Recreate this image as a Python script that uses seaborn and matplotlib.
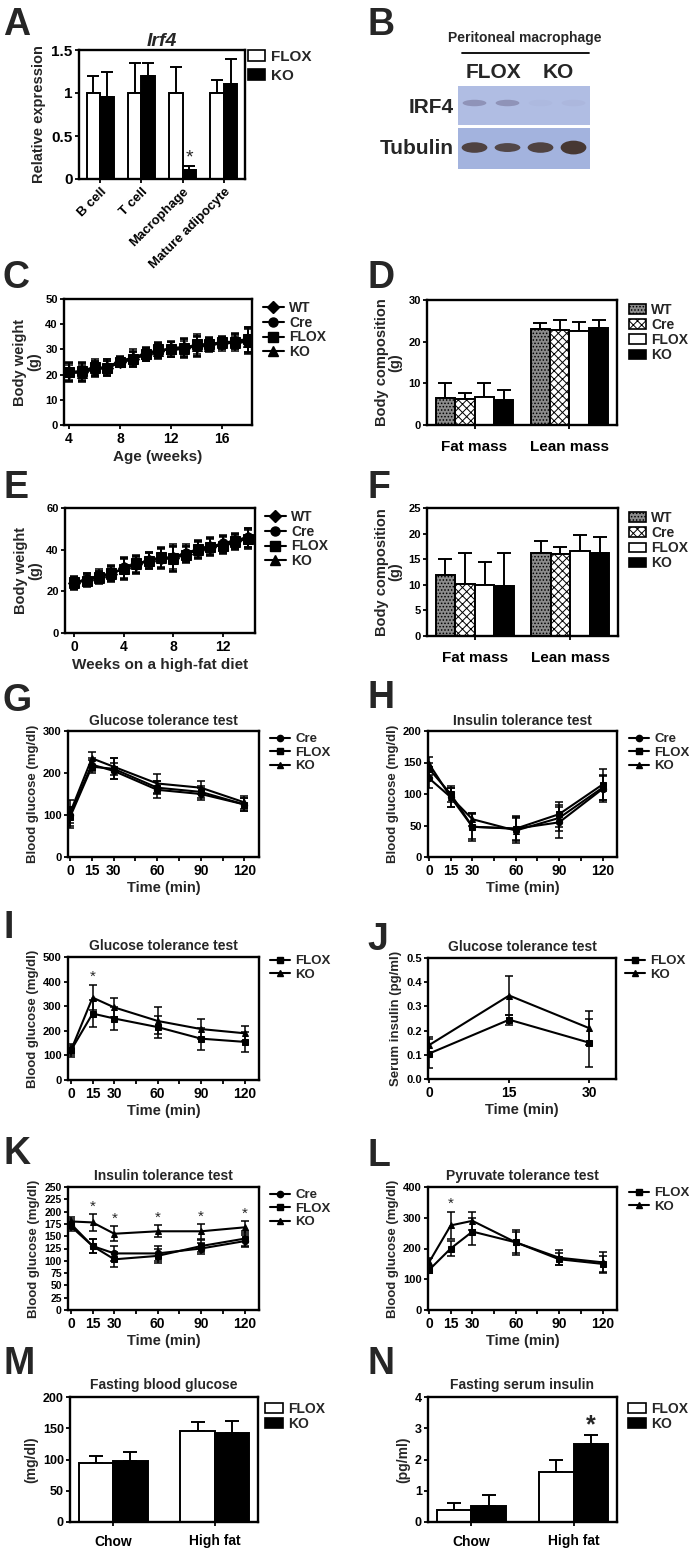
import numpy as np
import pandas as pd
import seaborn as sns
import matplotlib.pyplot as plt
from matplotlib.lines import Line2D
from matplotlib.patches import Patch, Rectangle, Ellipse

# ---- data ----
a_cells = ['B cell', 'T cell', 'Macrophage', 'Mature adipocyte']
a_flox = [1.0, 1.0, 1.0, 1.0]
a_flox_err = [0.2, 0.35, 0.3, 0.15]
a_ko = [0.95, 1.2, 0.1, 1.1]
a_ko_err = [0.3, 0.15, 0.05, 0.3]

b_lanes = [1, 2, 3, 4]
b_irf4 = [0.45, 0.45, 0.04, 0.06]
b_tubulin = [0.92, 0.88, 0.92, 1.0]

c_weeks = list(range(4, 19))
c_wt = [21, 21, 22.5, 22.5, 25, 26, 28, 29.5, 30, 30.5, 31.5, 32, 32.5, 33, 33.5]
c_cre = [20.5, 21, 22, 23, 25.5, 26.5, 28.5, 29, 30.5, 31, 31, 32.5, 32, 33.5, 34]
c_flox = [21, 21.5, 23, 22.5, 25, 26, 28, 30, 30, 30.5, 32, 32, 33, 33, 34]
c_ko = [21.5, 20.5, 22.5, 23, 25, 27, 28, 29.5, 30, 30, 31.5, 31.5, 32.5, 32.5, 33]
c_err = [3.5, 3.5, 3, 3, 2, 3, 2.5, 3, 3, 3.5, 4, 2.5, 2.5, 3, 5]

d_cats = ['Fat mass', 'Lean mass']
d_wt, d_wt_err = [6.5, 23.0], [3.6, 1.5]
d_cre, d_cre_err = [6.3, 22.8], [1.5, 2.4]
d_flox, d_flox_err = [6.7, 22.6], [3.5, 2.2]
d_ko, d_ko_err = [6.0, 23.3], [2.3, 2.0]

e_weeks = list(range(0, 15))
e_wt = [24, 25.5, 27, 28.5, 31, 33, 34.5, 36, 36, 38, 40, 41.5, 42.5, 44, 45.5]
e_cre = [23.5, 26, 27.5, 28, 31.5, 32.5, 35, 35.5, 36.5, 38.5, 39.5, 41, 43, 44.5, 46]
e_flox = [24.5, 25, 27, 29, 30.5, 33.5, 34.5, 36.5, 36, 37.5, 40.5, 41.5, 42, 44, 45]
e_ko = [24, 26, 26.5, 28.5, 31, 33, 35, 36, 35.5, 38, 40, 42, 42.5, 43.5, 46]
e_err = [3, 3, 3, 3.5, 5, 4, 4, 5, 6, 4, 4, 4, 4, 3.5, 4.5]

f_cats = ['Fat mass', 'Lean mass']
f_wt, f_wt_err = [12.0, 16.2], [3.0, 2.3]
f_cre, f_cre_err = [10.2, 16.0], [6.1, 1.3]
f_flox, f_flox_err = [10.0, 16.6], [4.5, 3.2]
f_ko, f_ko_err = [9.8, 16.2], [6.5, 3.1]

tt_min = [0, 15, 30, 60, 90, 120]
g_cre, g_cre_err = [100, 220, 205, 160, 150, 125], [20, 15, 20, 20, 15, 15]
g_flox, g_flox_err = [95, 215, 210, 165, 155, 125], [25, 15, 25, 15, 15, 15]
g_ko, g_ko_err = [105, 235, 215, 175, 165, 130], [30, 15, 20, 22, 15, 15]

h_cre, h_cre_err = [125, 95, 48, 45, 55, 108], [15, 15, 20, 18, 25, 20]
h_flox, h_flox_err = [140, 100, 48, 45, 68, 115], [10, 12, 22, 20, 20, 25]
h_ko, h_ko_err = [148, 95, 60, 42, 62, 110], [10, 15, 10, 20, 20, 20]

i_flox, i_flox_err = [120, 270, 250, 215, 168, 155], [25, 55, 45, 45, 45, 40]
i_ko, i_ko_err = [120, 335, 295, 240, 207, 190], [20, 50, 40, 55, 40, 30]

j_min = [0, 15, 30]
j_flox, j_flox_err = [0.105, 0.245, 0.15], [0.06, 0.02, 0.10]
j_ko, j_ko_err = [0.14, 0.345, 0.21], [0.035, 0.08, 0.07]

k_cre, k_cre_err = [170, 130, 115, 115, 125, 140], [10, 15, 15, 15, 12, 12]
k_flox, k_flox_err = [175, 130, 103, 110, 130, 145], [10, 15, 15, 15, 12, 15]
k_ko, k_ko_err = [180, 178, 155, 160, 160, 168], [10, 17, 15, 12, 15, 12]

l_flox, l_flox_err = [130, 200, 255, 220, 165, 150], [10, 25, 45, 35, 20, 25]
l_ko, l_ko_err = [155, 275, 290, 220, 170, 155], [15, 45, 30, 40, 25, 35]

m_cats = ['Chow', 'High fat']
m_flox, m_flox_err = [95, 145], [10, 15]
m_ko, m_ko_err = [97, 142], [15, 20]

n_cats = ['Chow', 'High fat']
n_flox, n_flox_err = [0.4, 1.6], [0.2, 0.4]
n_ko, n_ko_err = [0.5, 2.5], [0.35, 0.3]

# ---- style ----
sns.set_style("ticks")
plt.rcParams['font.family'] = ['Liberation Sans', 'DejaVu Sans']
plt.rcParams['font.weight'] = 'bold'
plt.rcParams['axes.labelweight'] = 'bold'
plt.rcParams['axes.titleweight'] = 'bold'
plt.rcParams['hatch.linewidth'] = 0.7

W, H = 689, 1561
fig = plt.figure(figsize=(W / 100, H / 100), dpi=100)


def px_ax(l, t, r, b):
    return fig.add_axes([l / W, 1 - b / H, (r - l) / W, (b - t) / H])


def box(ax, fs=8, xfs=10):
    for s in ax.spines.values():
        s.set_visible(True)
        s.set_linewidth(1.7)
        s.set_color('black')
    ax.tick_params(width=1.3, length=3, labelsize=fs, pad=1.5, colors='black')
    ax.tick_params(axis='x', labelsize=xfs, pad=2)


def letter(x, y, s):
    fig.text(x / W, 1 - y / H, s, fontsize=27, fontweight='bold', va='top', ha='left')


def px_legend(handles, labels, x, y, fs=9, hl=1.5, sp=0.25):
    fig.legend(handles, labels, loc='upper left', bbox_to_anchor=(x / W, 1 - y / H),
               frameon=False, fontsize=fs, handlelength=hl, handletextpad=0.4,
               labelspacing=sp, borderaxespad=0, borderpad=0)


geno_marker = {'WT': 'D', 'Cre': 'o', 'FLOX': 's', 'KO': '^'}
geno_fill = {'WT': ('#8c8c8c', '.....'), 'Cre': ('white', 'xxxx'),
             'FLOX': ('white', ''), 'KO': ('black', '')}


def line_panel(ax, x, series, errs, ms=4.5, lw=1.5, cap=3):
    names = list(series)
    df = pd.DataFrame([(n, xi, yi) for n in names for xi, yi in zip(x, series[n])],
                      columns=['g', 't', 'v'])
    sns.lineplot(data=df, x='t', y='v', style='g', style_order=names,
                 markers={n: geno_marker[n] for n in names}, dashes=False,
                 color='black', markersize=ms, markeredgecolor='black', linewidth=lw,
                 errorbar=None, legend=False, ax=ax)
    for n in names:
        ax.errorbar(x, series[n], yerr=errs[n], fmt='none', ecolor='black',
                    elinewidth=1.1, capsize=cap, capthick=1.1)
    ax.set_xlabel('')
    ax.set_ylabel('')
    handles = [Line2D([0], [0], color='black', marker=geno_marker[n], lw=lw,
                      markersize=ms) for n in names]
    return handles, names


def bar_panel(ax, cats, series, errs, width=0.8, cap=4):
    names = list(series)
    df = pd.DataFrame([(n, c, v) for n in names for c, v in zip(cats, series[n])],
                      columns=['g', 'c', 'v'])
    sns.barplot(data=df, x='c', y='v', hue='g', hue_order=names, order=cats,
                palette={n: geno_fill[n][0] for n in names}, saturation=1,
                edgecolor='black', linewidth=1.4, width=width, errorbar=None,
                legend=False, ax=ax)
    for n, cont in zip(names, ax.containers):
        for bar, v, e in zip(cont, series[n], errs[n]):
            bar.set_hatch(geno_fill[n][1])
            xc = bar.get_x() + bar.get_width() / 2
            ax.errorbar(xc, v, yerr=[[0], [e]], fmt='none', ecolor='black',
                        elinewidth=1.4, capsize=cap, capthick=1.4, zorder=0.5)
    ax.set_xlabel('')
    ax.set_ylabel('')
    ax.tick_params(axis='x', length=0)
    handles = [Patch(facecolor=geno_fill[n][0], edgecolor='black', hatch=geno_fill[n][1],
                     linewidth=1.2) for n in names]
    return handles, names


def time_axis(ax, left):
    ax.set_xlim(left, 130)
    ax.set_xticks(range(0, 121, 15))
    ax.set_xticklabels(['0', '15', '30', '', '60', '', '90', '', '120'])
    ax.set_xlabel('Time (min)', fontsize=10.5, labelpad=2)


# ---- A ----
ax = px_ax(79, 50, 245, 179)
hs, ns = bar_panel(ax, a_cells, {'FLOX': a_flox, 'KO': a_ko},
                   {'FLOX': a_flox_err, 'KO': a_ko_err}, width=0.66, cap=4)
box(ax, fs=11)
ax.set_ylim(0, 1.5)
ax.set_yticks([0, 0.5, 1, 1.5])
ax.set_yticklabels(['0', '0.5', '1', '1.5'])
ax.set_xticks(range(4))
ax.set_xticklabels(a_cells, rotation=45, ha='right', rotation_mode='anchor', fontsize=9.5)
ax.set_ylabel('Relative expression', fontsize=10.5, labelpad=4)
ax.set_title('Irf4', fontsize=14, fontstyle='italic', pad=3)
ko_bar = ax.containers[1][2]
ax.text(ko_bar.get_x() + ko_bar.get_width() / 2, a_ko[2] + a_ko_err[2] + 0.0, '*',
        ha='center', va='bottom', fontsize=14, fontweight='normal')
px_legend(hs, ns, 248, 50, fs=11, hl=1.1, sp=0.3)
letter(3, 7, 'A')

# ---- B (western blot) ----
ax = px_ax(458, 86, 590, 169)
ax.set_xlim(0.5, 4.5)
ax.set_ylim(0, 2.05)
ax.invert_yaxis()
ax.axis('off')
bg_top = np.array([0.69, 0.74, 0.89])
bg_bot = np.array([0.64, 0.70, 0.87])
ax.add_patch(Rectangle((0.5, 0), 4, 0.97, facecolor=bg_top, edgecolor='none'))
ax.add_patch(Rectangle((0.5, 1.03), 4, 1.02, facecolor=bg_bot, edgecolor='none'))
dark = np.array([0.28, 0.22, 0.20])
for lane, a in zip(b_lanes, b_irf4):
    col = bg_top * (1 - a) + np.array([0.40, 0.38, 0.52]) * a
    ax.add_patch(Ellipse((lane, 0.42), 0.72, 0.16, facecolor=col, edgecolor='none'))
for lane, a in zip(b_lanes, b_tubulin):
    col = bg_bot * (1 - a) + dark * a
    ax.add_patch(Ellipse((lane, 1.52), 0.78, 0.22 + 0.12 * (a - 0.88) / 0.12, facecolor=col,
                         edgecolor='none'))
ax.text(-0.03, 0.74, 'IRF4', transform=ax.transAxes, ha='right', va='center', fontsize=15)
ax.text(-0.03, 0.25, 'Tubulin', transform=ax.transAxes, ha='right', va='center', fontsize=15)
fig.text(525 / W, 1 - 38 / H, 'Peritoneal macrophage', ha='center', va='center', fontsize=10)
fig.add_artist(Line2D([462 / W, 589 / W], [1 - 53 / H, 1 - 53 / H], color='black', lw=1.3))
fig.text(493 / W, 1 - 72 / H, 'FLOX', ha='center', va='center', fontsize=15)
fig.text(558 / W, 1 - 72 / H, 'KO', ha='center', va='center', fontsize=15)
letter(367, 7, 'B')

# ---- C ----
ax = px_ax(64, 299, 252, 425)
hs, ns = line_panel(ax, c_weeks, {'WT': c_wt, 'Cre': c_cre, 'FLOX': c_flox, 'KO': c_ko},
                    {'WT': c_err, 'Cre': c_err, 'FLOX': c_err, 'KO': c_err}, ms=6.5, lw=1.5, cap=3)
box(ax, fs=8, xfs=10)
ax.set_xlim(3.6, 18.35)
ax.set_xticks([4, 8, 12, 16])
ax.set_ylim(0, 50)
ax.set_yticks(range(0, 51, 10))
ax.set_xlabel('Age (weeks)', fontsize=11, labelpad=3)
ax.set_ylabel('Body weight\n(g)', fontsize=10.5, labelpad=3, linespacing=1.0)
px_legend(hs, ns, 263, 301, fs=10, hl=1.5, sp=0.05)
letter(3, 260, 'C')

# ---- D ----
ax = px_ax(427, 300, 617, 425)
hs, ns = bar_panel(ax, d_cats, {'WT': d_wt, 'Cre': d_cre, 'FLOX': d_flox, 'KO': d_ko},
                   {'WT': d_wt_err, 'Cre': d_cre_err, 'FLOX': d_flox_err, 'KO': d_ko_err},
                   width=0.82, cap=5)
box(ax, fs=8, xfs=11)
ax.set_ylim(0, 30)
ax.set_yticks([0, 10, 20, 30])
ax.tick_params(axis='x', pad=8)
ax.set_ylabel('Body composition\n(g)', fontsize=10.5, labelpad=4, linespacing=1.0)
px_legend(hs, ns, 629, 303, fs=10, hl=1.2, sp=0.08)
letter(367, 260, 'D')

# ---- E ----
ax = px_ax(65, 508, 255, 633)
hs, ns = line_panel(ax, e_weeks, {'WT': e_wt, 'Cre': e_cre, 'FLOX': e_flox, 'KO': e_ko},
                    {'WT': e_err, 'Cre': e_err, 'FLOX': e_err, 'KO': e_err}, ms=6.5, lw=1.5, cap=3)
box(ax, fs=8, xfs=10)
ax.set_xlim(-0.75, 14.6)
ax.set_xticks([0, 4, 8, 12])
ax.set_ylim(0, 60)
ax.set_yticks([0, 20, 40, 60])
ax.set_xlabel('Weeks on a high-fat diet', fontsize=11, labelpad=3)
ax.set_ylabel('Body weight\n(g)', fontsize=10.5, labelpad=3, linespacing=1.0)
px_legend(hs, ns, 265, 510, fs=10, hl=1.5, sp=0.05)
letter(3, 470, 'E')

# ---- F ----
ax = px_ax(427, 508, 618, 636)
hs, ns = bar_panel(ax, f_cats, {'WT': f_wt, 'Cre': f_cre, 'FLOX': f_flox, 'KO': f_ko},
                   {'WT': f_wt_err, 'Cre': f_cre_err, 'FLOX': f_flox_err, 'KO': f_ko_err},
                   width=0.82, cap=5)
box(ax, fs=8, xfs=11)
ax.set_ylim(0, 25)
ax.set_yticks(range(0, 26, 5))
ax.tick_params(axis='x', pad=8)
ax.set_ylabel('Body composition\n(g)', fontsize=10.5, labelpad=4, linespacing=1.0)
px_legend(hs, ns, 629, 511, fs=10, hl=1.2, sp=0.08)
letter(367, 470, 'F')

# ---- G ----
ax = px_ax(68, 731, 259, 857)
hs, ns = line_panel(ax, tt_min, {'Cre': g_cre, 'FLOX': g_flox, 'KO': g_ko},
                    {'Cre': g_cre_err, 'FLOX': g_flox_err, 'KO': g_ko_err})
box(ax, fs=8, xfs=10)
time_axis(ax, -1.4)
ax.set_ylim(0, 300)
ax.set_yticks([0, 100, 200, 300])
ax.set_ylabel('Blood glucose (mg/dl)', fontsize=9.5, labelpad=3)
ax.set_title('Glucose tolerance test', fontsize=10, pad=4)
px_legend(hs, ns, 270, 733, fs=9.5, hl=1.5, sp=0.1)
letter(3, 683, 'G')

# ---- H ----
ax = px_ax(428, 731, 617, 857)
hs, ns = line_panel(ax, tt_min, {'Cre': h_cre, 'FLOX': h_flox, 'KO': h_ko},
                    {'Cre': h_cre_err, 'FLOX': h_flox_err, 'KO': h_ko_err})
box(ax, fs=8, xfs=10)
time_axis(ax, -0.7)
ax.set_ylim(0, 200)
ax.set_yticks(range(0, 201, 50))
ax.set_ylabel('Blood glucose (mg/dl)', fontsize=9.5, labelpad=3)
ax.set_title('Insulin tolerance test', fontsize=10, pad=4)
px_legend(hs, ns, 629, 733, fs=9.5, hl=1.5, sp=0.1)
letter(367, 680, 'H')

# ---- I ----
ax = px_ax(68, 957, 259, 1080)
hs, ns = line_panel(ax, tt_min, {'FLOX': i_flox, 'KO': i_ko},
                    {'FLOX': i_flox_err, 'KO': i_ko_err})
box(ax, fs=8, xfs=10)
time_axis(ax, -2)
ax.set_ylim(0, 500)
ax.set_yticks(range(0, 501, 100))
ax.set_ylabel('Blood glucose (mg/dl)', fontsize=9.5, labelpad=3)
ax.set_title('Glucose tolerance test', fontsize=10, pad=5)
ax.text(15, i_ko[1] + i_ko_err[1] + 5, '*', ha='center', va='bottom', fontsize=11,
        fontweight='normal')
px_legend(hs, ns, 270, 955, fs=9.5, hl=1.5, sp=0.1)
letter(3, 910, 'I')

# ---- J ----
ax = px_ax(428, 958, 616, 1079)
hs, ns = line_panel(ax, j_min, {'FLOX': j_flox, 'KO': j_ko},
                    {'FLOX': j_flox_err, 'KO': j_ko_err})
box(ax, fs=8, xfs=10)
ax.set_xlim(-0.2, 35)
ax.set_xticks([0, 15, 30])
ax.set_ylim(0, 0.5)
ax.set_yticks(np.arange(0, 0.51, 0.1))
ax.set_yticklabels([f'{v:.1f}' for v in np.arange(0, 0.51, 0.1)])
ax.set_xlabel('Time (min)', fontsize=10.5, labelpad=2)
ax.set_ylabel('Serum insulin (pg/ml)', fontsize=9.5, labelpad=3)
ax.set_title('Glucose tolerance test', fontsize=10, pad=5)
px_legend(hs, ns, 625, 955, fs=9.5, hl=1.5, sp=0.1)
letter(367, 922, 'J')

# ---- K ----
ax = px_ax(68, 1187, 259, 1310)
hs, ns = line_panel(ax, tt_min, {'Cre': k_cre, 'FLOX': k_flox, 'KO': k_ko},
                    {'Cre': k_cre_err, 'FLOX': k_flox_err, 'KO': k_ko_err})
box(ax, fs=7.5, xfs=10)
time_axis(ax, -2)
ax.set_ylim(0, 250)
ax.set_yticks(range(0, 251, 25))
ax.set_ylabel('Blood glucose (mg/dl)', fontsize=9.5, labelpad=3)
ax.set_title('Insulin tolerance test', fontsize=10, pad=5)
for t, v, e in zip(tt_min[1:], k_ko[1:], k_ko_err[1:]):
    ax.text(t, v + e + 1, '*', ha='center', va='bottom', fontsize=11, fontweight='normal')
px_legend(hs, ns, 270, 1189, fs=9.5, hl=1.5, sp=0.1)
letter(3, 1136, 'K')

# ---- L ----
ax = px_ax(428, 1187, 617, 1310)
hs, ns = line_panel(ax, tt_min, {'FLOX': l_flox, 'KO': l_ko},
                    {'FLOX': l_flox_err, 'KO': l_ko_err})
box(ax, fs=8, xfs=10)
time_axis(ax, -0.7)
ax.set_ylim(0, 400)
ax.set_yticks(range(0, 401, 100))
ax.set_ylabel('Blood glucose (mg/dl)', fontsize=9.5, labelpad=3)
ax.set_title('Pyruvate tolerance test', fontsize=10, pad=5)
ax.text(15, l_ko[1] + l_ko_err[1] + 2, '*', ha='center', va='bottom', fontsize=11,
        fontweight='normal')
px_legend(hs, ns, 629, 1187, fs=9.5, hl=1.5, sp=0.1)
letter(367, 1138, 'L')

# ---- M ----
ax = px_ax(70, 1397, 258, 1522)
hs, ns = bar_panel(ax, m_cats, {'FLOX': m_flox, 'KO': m_ko},
                   {'FLOX': m_flox_err, 'KO': m_ko_err}, width=0.68, cap=5)
box(ax, fs=9, xfs=10)
ax.set_ylim(0, 200)
ax.set_yticks(range(0, 201, 50))
ax.tick_params(axis='x', pad=6)
ax.set_ylabel('(mg/dl)', fontsize=10, labelpad=3)
ax.set_title('Fasting blood glucose', fontsize=10, pad=6)
px_legend(hs, ns, 265, 1402, fs=10, hl=1.3, sp=0.08)
letter(3, 1346, 'M')

# ---- N ----
ax = px_ax(428, 1397, 617, 1522)
hs, ns = bar_panel(ax, n_cats, {'FLOX': n_flox, 'KO': n_ko},
                   {'FLOX': n_flox_err, 'KO': n_ko_err}, width=0.68, cap=5)
box(ax, fs=9, xfs=10)
ax.set_ylim(0, 4)
ax.set_yticks(range(0, 5))
ax.tick_params(axis='x', pad=6)
ax.set_ylabel('(pg/ml)', fontsize=10, labelpad=3)
ax.set_title('Fasting serum insulin', fontsize=10, pad=6)
ko_bar = ax.containers[1][1]
ax.text(ko_bar.get_x() + ko_bar.get_width() / 2, n_ko[1] + n_ko_err[1] - 0.1, '*',
        ha='center', va='bottom', fontsize=18)
px_legend(hs, ns, 628, 1402, fs=10, hl=1.3, sp=0.08)
letter(367, 1346, 'N')

fig.savefig('out.png', dpi=100)
